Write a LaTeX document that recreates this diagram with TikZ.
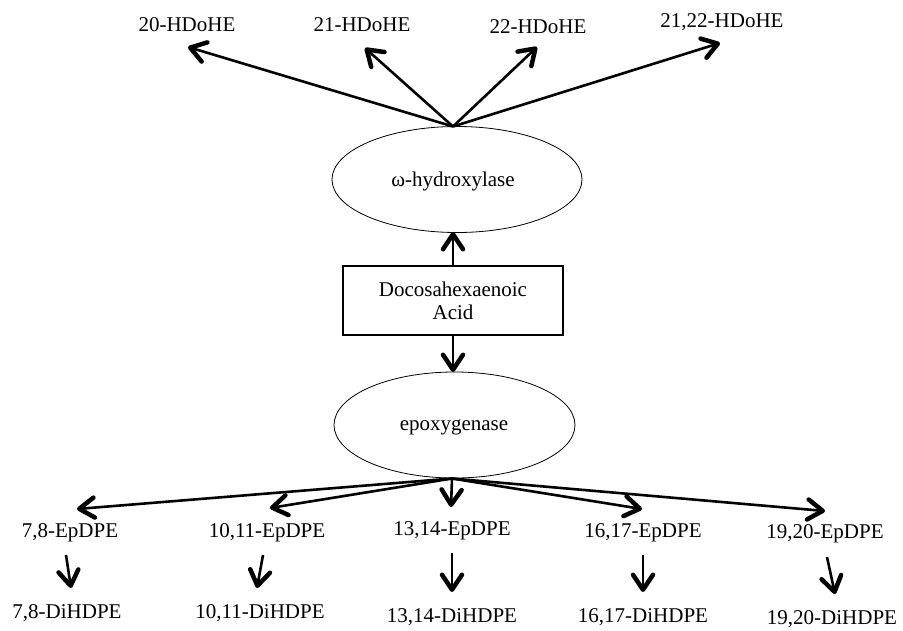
\documentclass[tikz,border=0pt]{standalone}
\usepackage{fontspec}
\setmainfont{Liberation Serif}
\usetikzlibrary{shapes.geometric,arrows.meta}
\begin{document}
\begin{tikzpicture}[x=1pt,y=-1pt,
  lbl/.style={inner sep=0pt,font=\fontsize{21}{23}\selectfont},
  enz/.style={draw,ellipse,line width=0.8pt,minimum height=106pt,inner sep=0pt,font=\fontsize{21}{23}\selectfont},
  arr/.style={line width=2.6pt,-{Straight Barb[length=15pt,width=20pt,line width=4.5pt,round]}}]
\useasboundingbox (0,0) rectangle (903,630);
% enzymes and substrate
\node[enz,minimum width=250pt] (hyd) at (457,179.5) {};
\node[lbl] (hydt) at (453,181) {ω-hydroxylase};
\node[enz,minimum width=241pt] (epo) at (454.5,425) {};
\node[lbl] (epot) at (454,427) {epoxygenase};
\node[draw,line width=1.5pt,minimum width=220pt,minimum height=69pt,inner sep=0pt,align=center,font=\fontsize{21}{23}\selectfont] (dha) at (453,300.5) {Docosahexaenoic\\Acid};
% top products
\node[lbl] (h20) at (187,25) {20-HDoHE};
\node[lbl] (h21) at (362,25) {21-HDoHE};
\node[lbl] (h22) at (538,27) {22-HDoHE};
\node[lbl] (h2122) at (722,22) {21,22-HDoHE};
\coordinate (top) at (453,126.5);
\coordinate (t20) at (188,47);
\coordinate (t21) at (365,48);
\coordinate (t22) at (537,47);
\coordinate (t2122) at (720,43);
\draw[arr] (top) -- (t20);
\draw[arr] (top) -- (t21);
\draw[arr] (top) -- (t22);
\draw[arr] (top) -- (t2122);
% substrate arrows
\coordinate (hb) at (453,232);
\coordinate (et) at (453,372);
\draw[arr] (dha.north) -- (hb);
\draw[arr] (dha.south) -- (et);
% epoxides
\node[lbl] (e78) at (70,533) {7,8-EpDPE};
\node[lbl] (e1011) at (267,533) {10,11-EpDPE};
\node[lbl] (e1314) at (452,531) {13,14-EpDPE};
\node[lbl] (e1617) at (643,533) {16,17-EpDPE};
\node[lbl] (e1920) at (825,534) {19,20-EpDPE};
\coordinate (eb) at (452,478.5);
\coordinate (te78) at (77,509);
\coordinate (te1011) at (270,508);
\coordinate (te1314) at (451,507);
\coordinate (te1617) at (642,509);
\coordinate (te1920) at (825,511);
\draw[arr] (eb) -- (te78);
\draw[arr] (eb) -- (te1011);
\draw[arr] (eb) -- (te1314);
\draw[arr] (eb) -- (te1617);
\draw[arr] (eb) -- (te1920);
% diols
\node[lbl] (d78) at (67,613) {7,8-DiHDPE};
\node[lbl] (d1011) at (260,613) {10,11-DiHDPE};
\node[lbl] (d1314) at (452,617) {13,14-DiHDPE};
\node[lbl] (d1617) at (643,617) {16,17-DiHDPE};
\node[lbl] (d1920) at (832,619) {19,20-DiHDPE};
\coordinate (s78) at (66,555);   \coordinate (u78) at (71,588);
\coordinate (s1011) at (263,555); \coordinate (u1011) at (257,588);
\coordinate (s1314) at (452,553); \coordinate (u1314) at (452,592);
\coordinate (s1617) at (643,555); \coordinate (u1617) at (643,592);
\coordinate (s1920) at (827,557); \coordinate (u1920) at (835,594);
\draw[arr] (s78) -- (u78);
\draw[arr] (s1011) -- (u1011);
\draw[arr] (s1314) -- (u1314);
\draw[arr] (s1617) -- (u1617);
\draw[arr] (s1920) -- (u1920);
\end{tikzpicture}
\end{document}
